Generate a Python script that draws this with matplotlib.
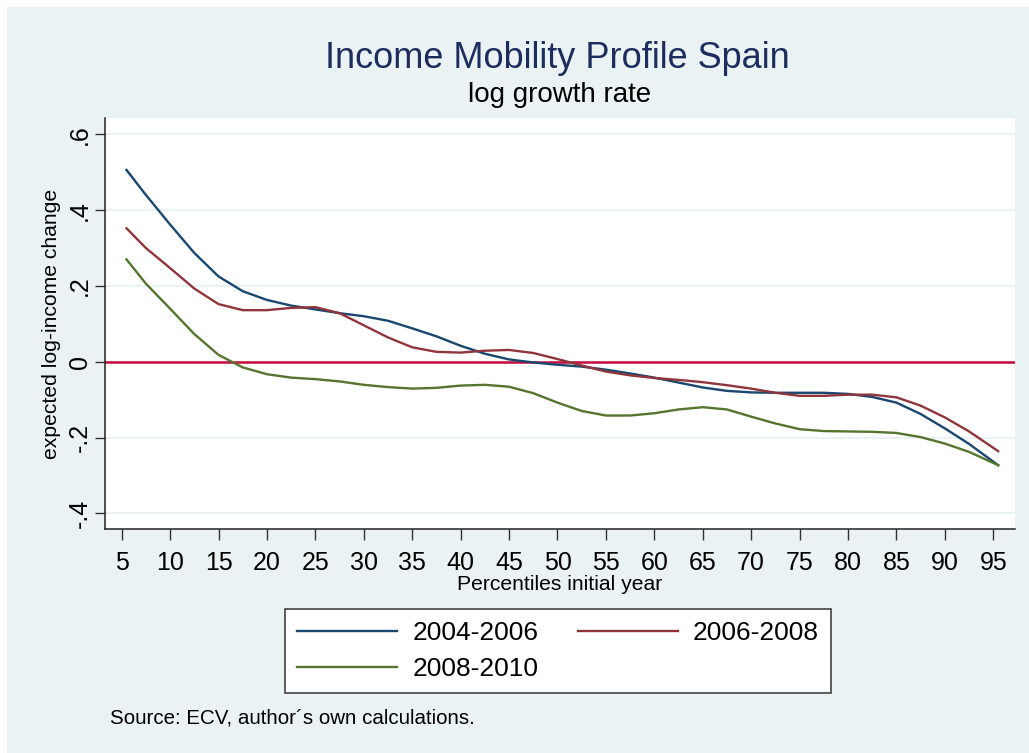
import matplotlib
matplotlib.use("Agg")
import matplotlib.pyplot as plt
from matplotlib.patches import Rectangle

plt.rcParams['font.family'] = ['Liberation Sans', 'DejaVu Sans']

# percentiles of the initial year
pct = [5.5, 7.5, 10, 12.5, 15, 17.5, 20, 22.5, 25, 27.5, 30, 32.5, 35, 37.5,
       40, 42.5, 45, 47.5, 50, 52.5, 55, 57.5, 60, 62.5, 65, 67.5, 70, 72.5,
       75, 77.5, 80, 82.5, 85, 87.5, 90, 92.5, 95.5]

# expected log-income change
y_0406 = [0.506, 0.440, 0.362, 0.287, 0.225, 0.186, 0.163, 0.148, 0.138, 0.128,
          0.120, 0.108, 0.088, 0.067, 0.042, 0.021, 0.006, -0.002, -0.008, -0.013,
          -0.021, -0.031, -0.042, -0.055, -0.068, -0.077, -0.081, -0.082, -0.082,
          -0.082, -0.085, -0.093, -0.108, -0.138, -0.176, -0.217, -0.273]
y_0608 = [0.352, 0.300, 0.247, 0.193, 0.152, 0.136, 0.136, 0.142, 0.144, 0.128,
          0.096, 0.064, 0.038, 0.026, 0.024, 0.029, 0.031, 0.023, 0.007, -0.010,
          -0.026, -0.036, -0.043, -0.048, -0.054, -0.062, -0.071, -0.082, -0.090,
          -0.090, -0.087, -0.087, -0.094, -0.116, -0.147, -0.184, -0.236]
y_0810 = [0.270, 0.206, 0.140, 0.073, 0.018, -0.015, -0.033, -0.042, -0.046, -0.052,
          -0.061, -0.067, -0.071, -0.069, -0.063, -0.061, -0.066, -0.083, -0.108, -0.130,
          -0.142, -0.142, -0.136, -0.126, -0.120, -0.126, -0.145, -0.163, -0.178,
          -0.183, -0.184, -0.185, -0.188, -0.199, -0.216, -0.238, -0.273]

series = [('2004-2006', y_0406, '#1A476F'),
          ('2006-2008', y_0608, '#90353B'),
          ('2008-2010', y_0810, '#55752F')]

xticks = list(range(5, 100, 5))
yticks = [-0.4, -0.2, 0, 0.2, 0.4, 0.6]
ytick_labels = ['-.4', '-.2', '0', '.2', '.4', '.6']

bg = '#EAF2F3'
W, H = 1029, 753
fig = plt.figure(figsize=(W / 100, H / 100), dpi=100, facecolor='white')
fig.patches.append(Rectangle((7 / W, 0), 1 - 7 / W, 1 - 7 / H,
                             transform=fig.transFigure, facecolor=bg,
                             edgecolor='none', zorder=-10))

ax = fig.add_axes([105 / W, 1 - 529 / H, 910 / W, 411 / H])
ax.set_facecolor('white')

handles = []
for name, vals, col in series:
    h, = ax.plot(pct, vals, color=col, lw=1.7, label=name, zorder=3,
                 solid_joinstyle='round')
    handles.append(h)
ax.axhline(0, color='#C8093F', lw=1.8, zorder=2)

ax.set_xlim(3.28, 97.24)
ax.set_ylim(-0.4414, 0.643)
ax.set_xticks(xticks)
ax.set_yticks(yticks)
ax.set_yticklabels(ytick_labels)
ax.yaxis.grid(True, color=bg, lw=1.6)
ax.set_axisbelow(True)

for s in ['top', 'right']:
    ax.spines[s].set_visible(False)
for s in ['left', 'bottom']:
    ax.spines[s].set_color('#222222')
    ax.spines[s].set_linewidth(1.1)

ax.tick_params(axis='x', length=7.8, width=1.0, color='#333333',
               labelsize=18, pad=8)
ax.tick_params(axis='y', length=7.2, width=1.0, color='#333333',
               labelsize=18, pad=2, labelrotation=90)
for lab in ax.get_yticklabels():
    lab.set_va('center')

ax.set_xlabel('Percentiles initial year', fontsize=15.2, va='baseline')
ax.xaxis.set_label_coords(0.5, -(590 - 529) / 411)
ax.set_ylabel('expected log-income change', fontsize=15.2, va='center')
ax.yaxis.set_label_coords((52 - 105) / 910, 0.5)

fig.text(557.5 / W, 1 - 68.3 / H, 'Income Mobility Profile Spain',
         ha='center', va='baseline', fontsize=26, color='#1C2D5E')
fig.text(560 / W, 1 - 101.7 / H, 'log growth rate',
         ha='center', va='baseline', fontsize=20, color='black')

# legend filled row by row: 2004-2006, 2006-2008 / 2008-2010
order = [handles[0], handles[2], handles[1]]
leg = ax.legend(order, [h.get_label() for h in order],
                loc='upper center', bbox_to_anchor=(558 / W, 1 - 609 / H),
                bbox_transform=fig.transFigure, ncol=2, fontsize=19,
                frameon=True, fancybox=False, shadow=False, framealpha=1,
                edgecolor='#333333', handlelength=3.8, handletextpad=0.56,
                columnspacing=1.5, borderpad=0.45, labelspacing=0.45,
                borderaxespad=0)
leg.get_frame().set_linewidth(1.1)
for line in leg.get_lines():
    line.set_linewidth(1.7)

fig.text(110 / W, 1 - 724 / H, 'Source: ECV, author\u00b4s own calculations.',
         ha='left', va='baseline', fontsize=14.8)

fig.savefig('out.png', dpi=100, facecolor=fig.get_facecolor())
